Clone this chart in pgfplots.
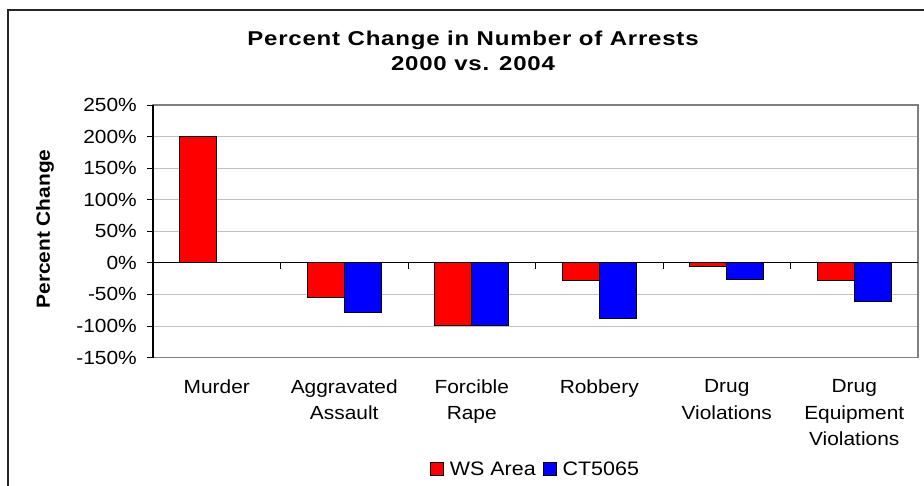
\documentclass[border=0pt]{standalone}
\usepackage{pgfplots}
\pgfplotsset{compat=1.18}
\usepackage{fontspec}
\setmainfont[FakeStretch=1.1]{Liberation Sans}
\newfontfamily\titlefont[FakeStretch=1.2, LetterSpace=4]{Liberation Sans}
\definecolor{gridgray}{RGB}{192,192,192}
\definecolor{framegray}{RGB}{128,128,128}

\begin{document}
\begin{tikzpicture}[x=1pt,y=1pt]
\useasboundingbox (0,0) rectangle (924,485);
\fill[white] (0,0) rectangle (924,485);
\draw[line width=1.3pt, black!85] (8,-10) -- (8,475) -- (940,475);
\node[anchor=base, inner sep=0pt] at (473,439) {\titlefont\bfseries\fontsize{20}{22}\selectfont Percent Change in Number of Arrests};
\node[anchor=base, inner sep=0pt] at (473,414.3) {\titlefont\bfseries\fontsize{20}{22}\selectfont 2000 vs. 2004};
\node[rotate=90, inner sep=0pt] at (45,256) {\bfseries\fontsize{19}{22}\selectfont Percent Change};
\begin{axis}[
  at={(153pt,127.5pt)}, anchor=south west,
  scale only axis, width=765pt, height=252.5pt,
  xmin=-0.5, xmax=5.5, ymin=-150, ymax=250,
  ybar=0pt, bar width=0.29,
  ytick={-150,-100,...,250},
  yticklabel={\pgfmathprintnumber{\tick}\%},
  /pgf/number format/assume math mode=true,
  ymajorgrids, grid style={gridgray, line width=0.8pt},
  xtick={0,1,2,3,4,5},
  xticklabels={Murder, Aggravated\\Assault, Forcible\\Rape, Robbery, Drug\\Violations, Drug\\Equipment\\Violations},
  x tick label style={align=center, anchor=north, inner sep=0pt, yshift=-16pt, font=\fontsize{19}{26.5}\selectfont},
  y tick label style={anchor=east, inner sep=0pt, xshift=-10pt, font=\fontsize{19}{22}\selectfont},
  xtick style={draw=none},
  ytick pos=left,
  ytick style={black, line width=0.8pt},
  tick align=outside, major tick length=6pt,
  axis line style={framegray, line width=1.2pt},
  legend style={at={(0.5,-0.4416)}, anchor=center, draw=none, fill=none,
    legend columns=2, font=\fontsize{19.5}{22}\selectfont,
    /tikz/every even column/.append style={column sep=5pt}},
  legend image code/.code={\draw[#1, line width=0.9pt] (0pt,-6.5pt) rectangle (13pt,6.5pt);},
  clip=false,
]
\addplot[fill={rgb,1:red,1;green,0;blue,0}, draw=black, line width=1.1pt]
  coordinates {(0,200) (1,-55.6) (2,-100) (3,-28.6) (4,-5.6) (5,-28.6)};
\addlegendentry{\hspace{4pt}WS Area}
\addplot[fill={rgb,1:red,0;green,0;blue,1}, draw=black, line width=1.1pt]
  coordinates {(1,-78) (2,-100) (3,-88) (4,-26.5) (5,-61)};
\addlegendentry{\hspace{4pt}CT5065}
\draw[black, line width=1pt] (axis cs:-0.5,0) -- (axis cs:5.5,0);
\pgfplotsinvokeforeach{0.5,1.5,2.5,3.5,4.5}{\draw[black, line width=0.8pt] (axis cs:#1,0) -- ([yshift=-6pt]axis cs:#1,0);}
\draw[black, line width=1.2pt] (axis cs:-0.5,-150) -- (axis cs:-0.5,250);
\end{axis}
\end{tikzpicture}
\end{document}
